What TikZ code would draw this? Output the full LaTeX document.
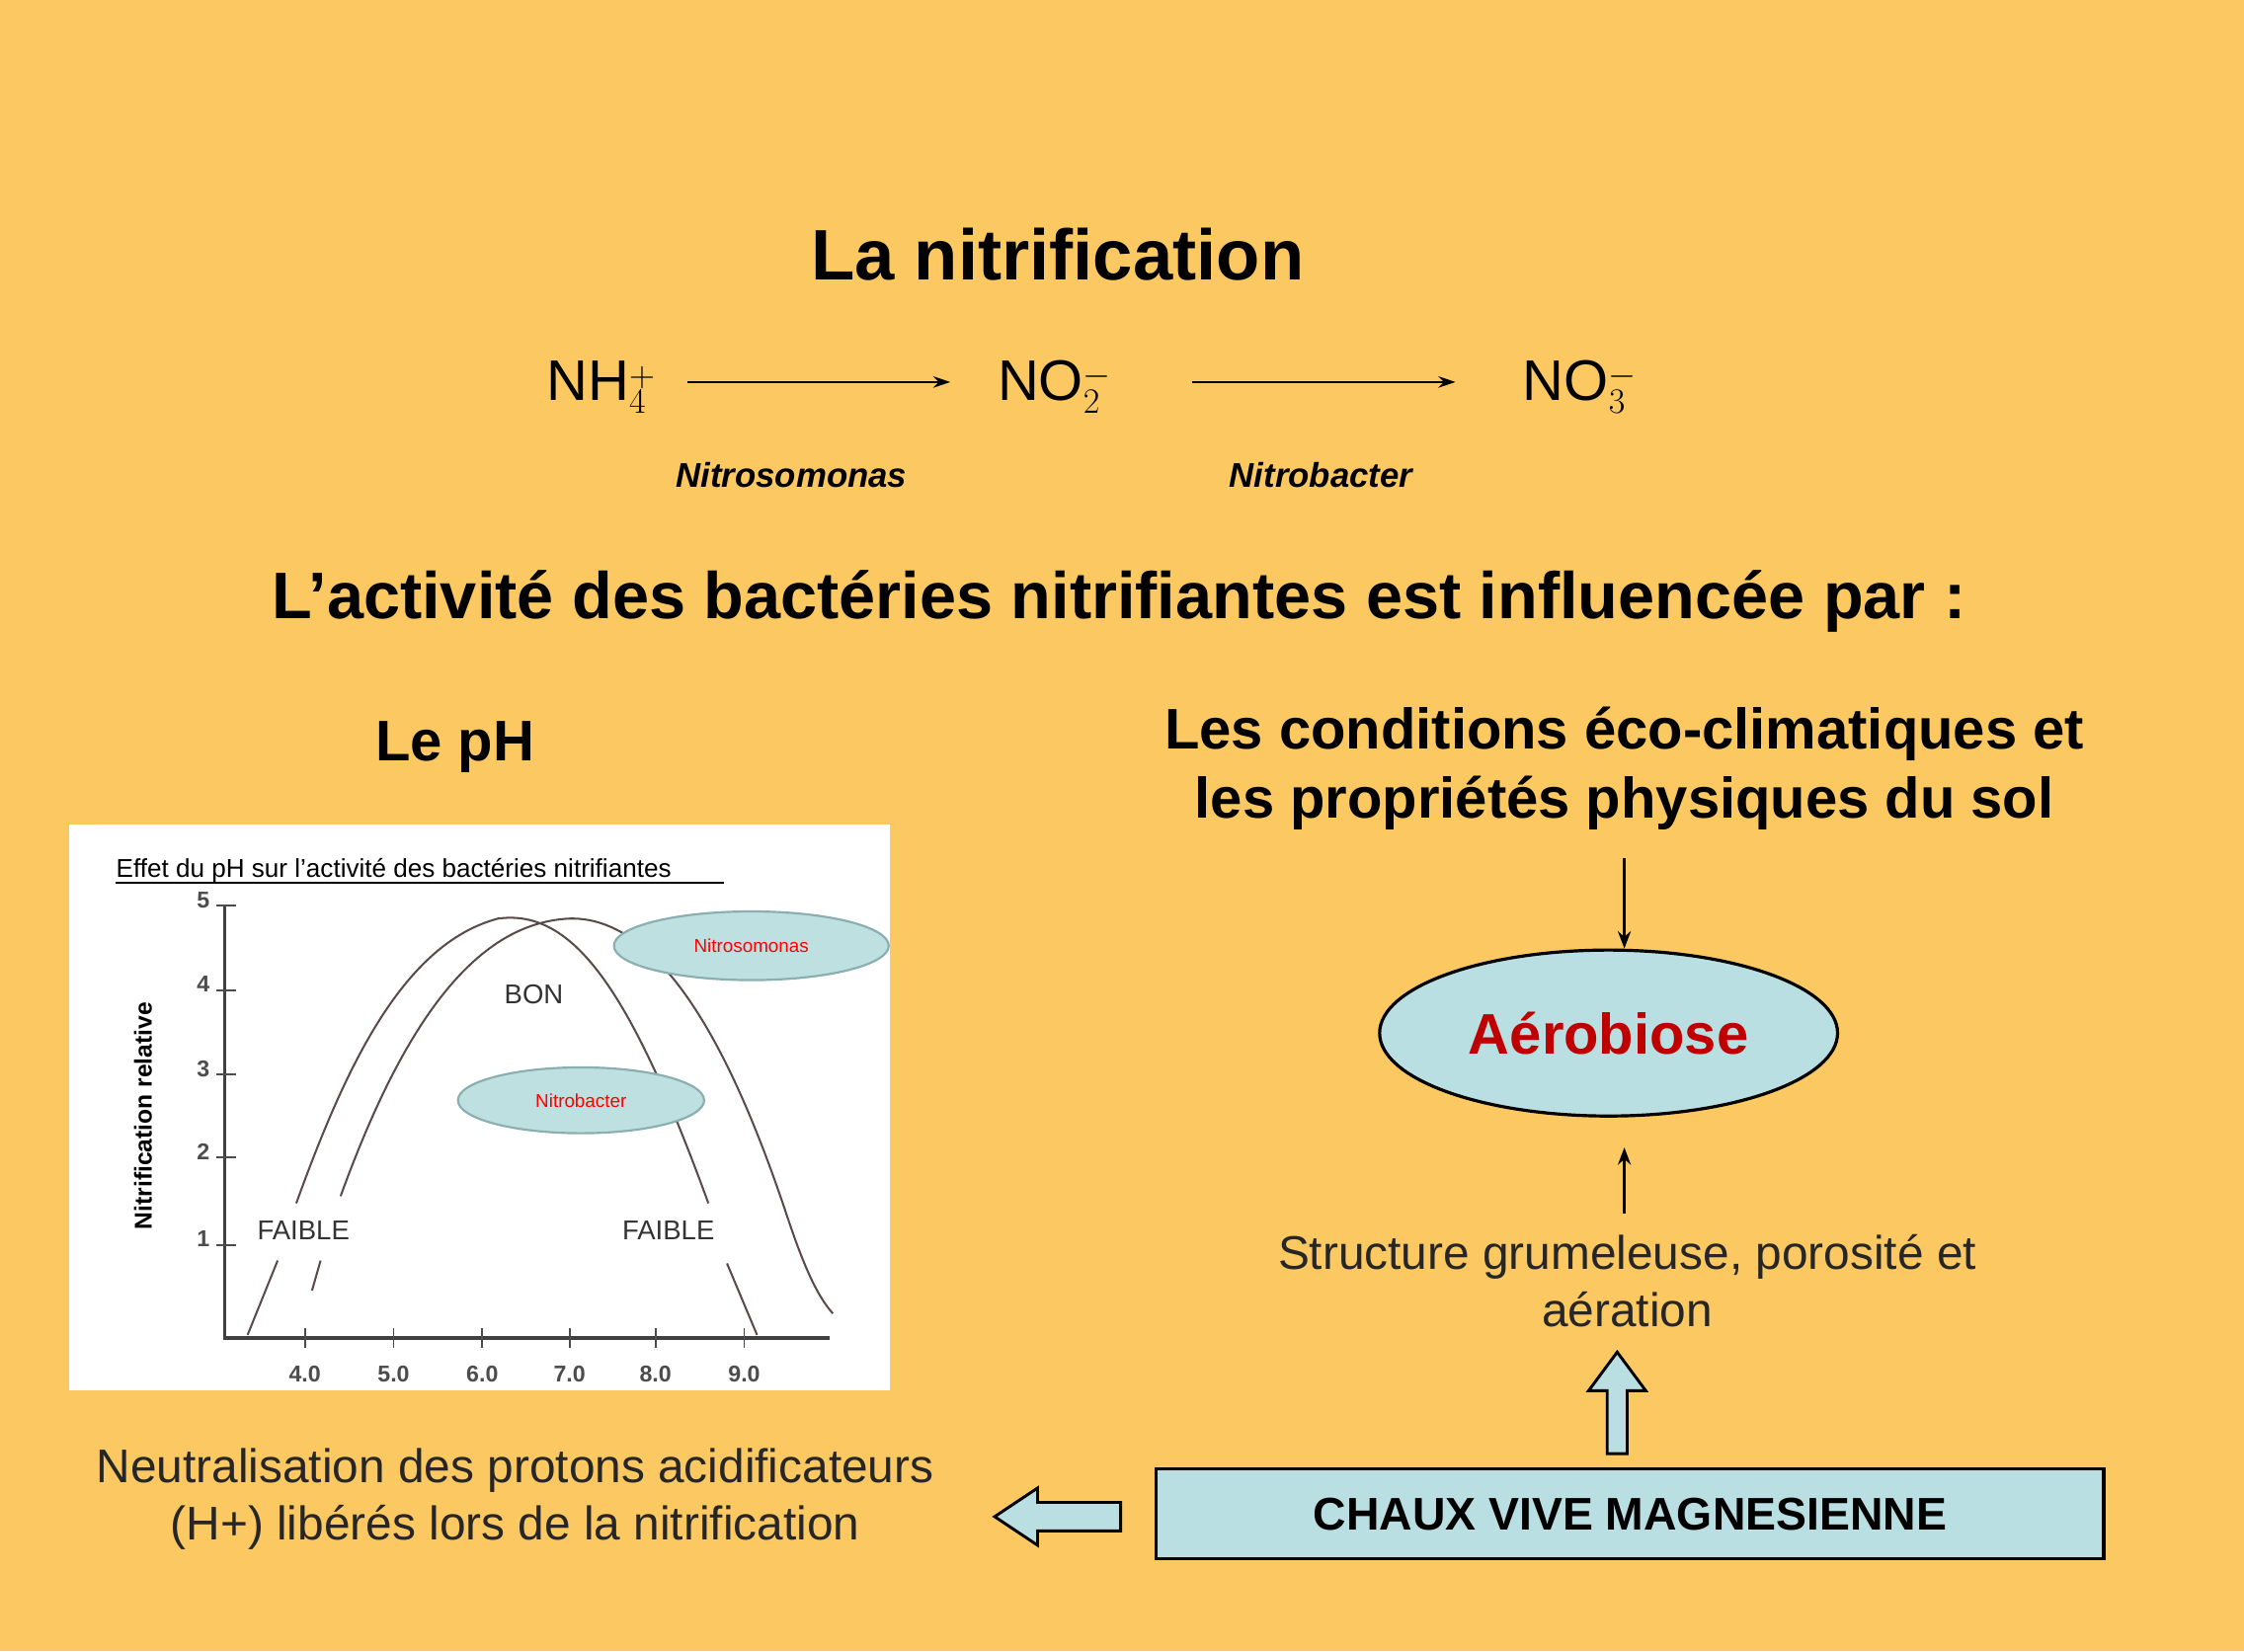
\documentclass[tikz,border=0pt]{standalone}
\usepackage{fontspec}
\setmainfont{Liberation Sans}
\usetikzlibrary{shapes.geometric,arrows.meta}
\definecolor{bg}{HTML}{FCC862}
\definecolor{lb}{HTML}{B9DFE3}
\definecolor{ell}{HTML}{BFE0E0}
\definecolor{ellb}{HTML}{8AAFB0}
\definecolor{curve}{HTML}{5A4A4A}
\tikzset{
  hd/.style={font=\fontsize{#1}{\numexpr#1*6/5\relax}\selectfont\bfseries, align=center},
  rx/.style={font=\fontsize{#1}{\numexpr#1*6/5\relax}\selectfont, align=center},
  bug/.style={font=\fontsize{24}{28}\selectfont\bfseries\itshape},
  solid arrow/.style={-{Stealth[length=12pt,width=9pt]}, line width=2.2pt},
  thin arrow/.style={-{Stealth[length=12pt,width=8pt]}, line width=1.4pt},
  hollow/.style={fill=lb, draw=black, line width=2pt, line join=miter},
  bact/.style={ellipse, fill=ell, draw=ellb, line width=1.5pt, inner sep=0pt, text=red, font=\fontsize{13}{15}\selectfont},
  crv/.style={draw=curve, line width=1.4pt},
  tick/.style={font=\fontsize{16}{18}\selectfont\bfseries, text=black!70},
}
\begin{document}
\begin{tikzpicture}[x=1pt,y=-1pt]
\fill[bg] (0,0) rectangle (1568,1154);
\useasboundingbox (0,0) rectangle (1568,1154);
% titles
\node[hd=50] (title) at (739,178) {La nitrification};
\node[rx=40, anchor=base] (nh4) at (420,280) {NH$_4^{+}$};
\node[rx=40, anchor=base] (no2) at (737,280) {NO$_2^{-}$};
\node[rx=40, anchor=base] (no3) at (1104,280) {NO$_3^{-}$};
\coordinate (a1s) at (480,267); \coordinate (a1e) at (664,267);
\coordinate (a2s) at (833,267); \coordinate (a2e) at (1017,267);
\draw[thin arrow] (a1s) -- (a1e);
\draw[thin arrow] (a2s) -- (a2e);
\node[bug] (nsm) at (553,332) {Nitrosomonas};
\node[bug] (nbc) at (923,332) {Nitrobacter};
\node[hd=46] (act) at (782,420) {L’activité des bactéries nitrifiantes est influencée par :};
\node[hd=40] (ph) at (318,522) {Le pH};
\node[hd=40] (cond) at (1135,537) {Les conditions éco-climatiques et\\les propriétés physiques du sol};
% chart
\fill[white] (48,576) rectangle (622,972);
\node[font=\fontsize{18}{20}\selectfont, anchor=base west, inner sep=0pt] (ctitle) at (81,613) {Effet du pH sur l'activité des bactéries nitrifiantes};
\draw[line width=1pt] (81,617) -- (506,617);
\coordinate (o) at (157,935);
\coordinate (ytop) at (157,633);
\coordinate (xend) at (580,935);
\draw[line width=2.6pt, draw=black!75] (ytop) -- (o) -- (xend);
\foreach \v/\y in {5/633,4/692,3/751,2/809,1/870}{
  \draw[line width=1.3pt, draw=black!70] (151,\y) -- (165,\y);
  \node[tick, anchor=east] at (150,\y-4) {\v};
}
\foreach \v/\x in {4.0/213,5.0/275,6.0/337,7.0/398,8.0/458,9.0/520}{
  \draw[line width=1.3pt, draw=black!70] (\x,928) -- (\x,942);
  \node[tick] at (\x,960) {\v};
}
\node[font=\fontsize{17}{19}\selectfont\bfseries, rotate=90] (ylab) at (100,780) {Nitrification relative};
% curve A
\draw[crv] (173,933) -- (194,881);
\draw[crv] (207,841) .. controls (240,750) and (280,660) .. (348,642) .. controls (400,635) and (440,690) .. (495,841);
\draw[crv] (508,883) -- (529,933);
% curve B
\draw[crv] (218,902) -- (224,881);
\draw[crv] (238,836) .. controls (280,720) and (330,645) .. (398,642) .. controls (470,640) and (520,760) .. (550,850) .. controls (560,880) and (570,905) .. (582,918);
\node[bact, minimum width=192pt, minimum height=48pt] (nsmell) at (525,661) {Nitrosomonas};
\node[bact, minimum width=172pt, minimum height=46pt] (nbcell) at (406,769) {Nitrobacter};
\node[font=\fontsize{19}{21}\selectfont, text=black!80] (bon) at (373,695) {BON};
\node[font=\fontsize{19}{21}\selectfont, text=black!80] (f1) at (212,860) {FAIBLE};
\node[font=\fontsize{19}{21}\selectfont, text=black!80] (f2) at (467,860) {FAIBLE};
% right column
\node[ellipse, fill=lb, draw=black, line width=2.2pt, minimum width=320pt, minimum height=116pt, text=red!75!black, font=\fontsize{40}{44}\selectfont\bfseries] (aero) at (1124,722) {Aérobiose};
\coordinate (d1) at (1135,600);
\draw[solid arrow] (d1) -- (aero.north -| d1);
\node[rx=33, text=black!85] (struct) at (1137,895) {Structure grumeleuse, porosité et\\aération};
\coordinate (u1) at (1135,848);
\draw[solid arrow] (u1) -- (1135,802);
\node[draw=black, line width=2.2pt, fill=lb, minimum width=662pt, minimum height=63pt, font=\fontsize{32}{36}\selectfont\bfseries] (chaux) at (1139,1058) {CHAUX VIVE MAGNESIENNE};
% hollow up arrow
\draw[hollow] (1123,1016) -- (1123,972) -- (1110,972) -- (1130,945) -- (1150,972) -- (1137,972) -- (1137,1016) -- cycle;
% hollow left arrow
\draw[hollow] (783,1050) -- (725,1050) -- (725,1040) -- (695,1060) -- (725,1080) -- (725,1070) -- (783,1070) -- cycle;
\node[rx=33, text=black!85] (neut) at (360,1048) {Neutralisation des protons acidificateurs\\(H+) libérés lors de la nitrification};
\end{tikzpicture}
\end{document}
